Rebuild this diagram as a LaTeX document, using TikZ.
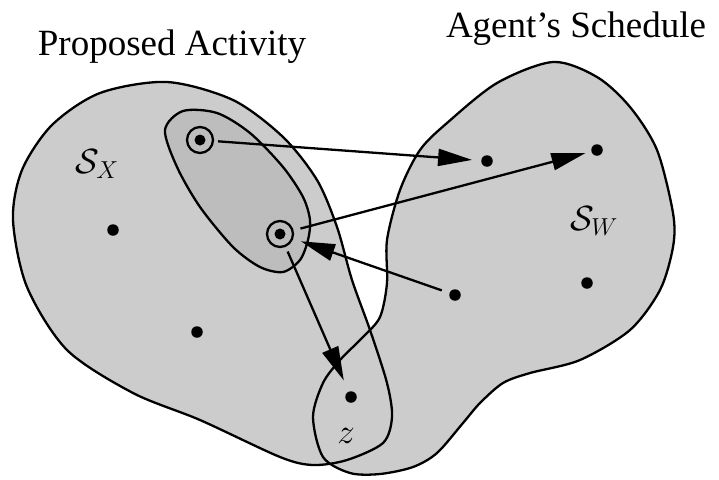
\RequirePackage{fix-cm}
\documentclass[tikz,border=0pt]{standalone}
\usepackage{fontspec}
\setmainfont{Liberation Serif}
\usetikzlibrary{arrows.meta}

\begin{document}
\begin{tikzpicture}[
    x=1pt, y=-1pt,
    region/.style={fill=black!20},
    rim/.style={draw, line width=2.3pt},
    spot/.style={circle, fill, inner sep=0pt, minimum size=11.5pt},
    ring/.style={circle, draw, line width=2.3pt, inner sep=0pt, minimum size=26pt,
                 path picture={\fill (path picture bounding box.center) circle (5.5pt);}},
    arr/.style={-{Triangle[length=34pt, width=17pt]}, line width=2.3pt},
    title/.style={font=\fontsize{37}{40}\selectfont, inner sep=0pt, anchor=base},
    lbl/.style={font=\fontsize{35}{38}\selectfont, inner sep=0pt}
]
\useasboundingbox (0,0) rectangle (719,479);
% the two sets
\path[save path=\setX] plot[smooth cycle] coordinates {(167,82) (233,100) (283,137) (317,180)
    (337,227) (352,280) (370,330) (387,383) (392,417) (383,443) (347,460) (313,465) (280,457)
    (200,420) (133,393) (67,350) (27,287) (13,220) (22,170) (52,125) (100,93)};
\path[save path=\setW] plot[smooth cycle] coordinates {(553,62) (597,77) (630,107) (657,150)
    (673,213) (673,247) (660,290) (630,330) (580,360) (530,373) (503,383) (480,403) (463,423)
    (437,453) (413,467) (380,474) (350,473) (323,457) (313,417) (323,383) (340,360) (363,337)
    (380,317) (387,283) (387,240) (400,190) (420,150) (447,123) (497,83)};
\fill[region, use path=\setX];
\fill[region, use path=\setW];
\draw[rim, use path=\setX];
\draw[rim, use path=\setW];
\draw[rim, fill=black!26] plot[smooth cycle] coordinates {(165,130) (183,111) (217,113) (250,133)
    (283,167) (303,197) (310,220) (308,240) (300,260) (283,272) (260,267) (233,247) (200,207)
    (177,167)};

\node[spot] (xa) at (113,230) {};
\node[spot] (xb) at (197,332) {};
\node[spot] (z)  at (351,397) {};
\node[spot] (wa) at (487,161) {};
\node[spot] (wb) at (597,150) {};
\node[spot] (wc) at (455,295) {};
\node[spot] (wd) at (587,283) {};
\node[ring] (r1) at (200,140) {};
\node[ring] (r2) at (280,234) {};

\draw[arr, shorten <=4pt, shorten >=9pt] (r1) -- (wa);
\draw[arr, shorten <=7pt, shorten >=6pt] (r2) -- (wb);
\draw[arr, shorten <=8pt, shorten >=8pt] (wc) -- (r2);
\draw[arr, shorten <=5pt, shorten >=12pt] (r2) -- (z);

\node[title] (prop) at (172,55) {Proposed Activity};
\node[title] (sched) at (576,37) {Agent's Schedule};
\node[lbl, anchor=base west] (sx) at (75,173) {$\mathcal{S}_X$};
\node[lbl, anchor=base west] (sw) at (570,230) {$\mathcal{S}_W$};
\node[lbl, anchor=base] (zl) at (346,443) {$z$};
\end{tikzpicture}
\end{document}
